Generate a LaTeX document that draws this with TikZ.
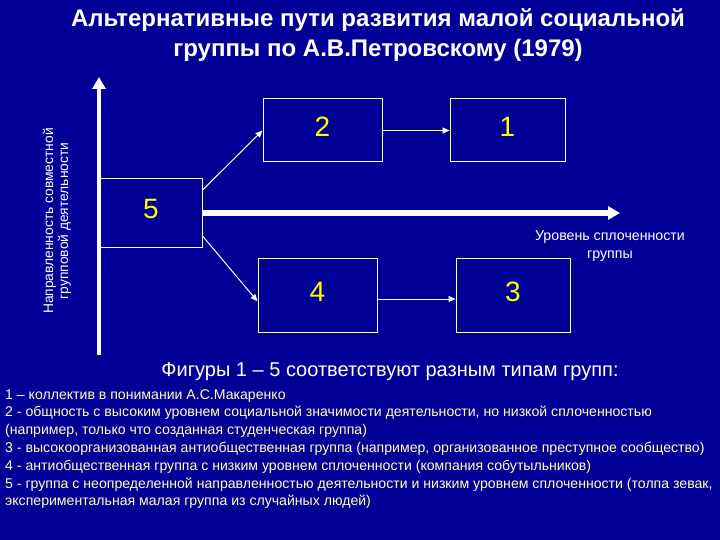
\documentclass[tikz,border=0pt]{standalone}
\usepackage{fontspec}
\setmainfont{Liberation Sans}
\usetikzlibrary{arrows.meta}
\definecolor{bg}{RGB}{0,0,150}
\definecolor{numc}{RGB}{255,255,0}
\definecolor{note}{RGB}{255,255,190}
\def\fs#1#2{\fontsize{#1}{#2}\selectfont}

\begin{document}
\begin{tikzpicture}[x=1pt,y=-1pt,
  box/.style={draw=white,line width=1pt,inner sep=0pt},
  num/.style={text=numc,font=\fs{28}{28}},
  thinarrow/.style={white,line width=1pt,-{Triangle[length=7pt,width=6pt]}},
  axisarrow/.style={white,line width=#1,-{Triangle[length=12pt,width=13pt]}}]
\fill[bg] (0,0) rectangle (720,540);
\useasboundingbox (0,0) rectangle (720,540);

\coordinate (ybot) at (99,355);
\coordinate (ytop) at (99,77);
\coordinate (xend) at (620,213);

% boxes: name/x/y/width/height
\foreach \n/\x/\y/\w/\h in {5/151/213/102/68, 2/322.5/130.5/119/63, 1/507.5/130.5/115/63,
                            4/317.5/295/119/74, 3/513/295/114/74}{
	\node[box,minimum width=\w pt,minimum height=\h pt] (n\n) at (\x,\y) {};
	\node[num] (t\n) at ([yshift=3.5pt]n\n.center) {\n};
}

\draw[axisarrow=4pt] (ybot) -- (ytop);
\draw[axisarrow=6pt] (n5.east) -- (xend);
\draw[thinarrow] (n5.24) -- (n2.west);
\draw[thinarrow] (n5.-24) -- (n4.186);
\draw[thinarrow] (n2.east) -- (n1.west);
\draw[thinarrow] ([yshift=-4pt]n4.east) -- ([yshift=-4pt]n3.west);

\node[white,align=center,font=\bfseries\fs{24}{30}] (title) at (378,35)
	{Альтернативные пути развития малой социальной\\группы по А.В.Петровскому (1979)};
\node[white,rotate=90,align=center,font=\fs{13.8}{15}] (ylab) at (57,221)
	{Направленность совместной\\групповой деятельности};
\node[white,align=center,font=\fs{14.2}{18}] (xlab) at (610,246)
	{Уровень сплоченности\\группы};
\node[white,font=\fs{20}{22}] (figs) at (390,372)
	{Фигуры 1 – 5 соответствуют разным типам групп:};
\node[text=note,anchor=north west,align=left,inner sep=0pt,font=\fs{14.1}{17.8}] (list) at (5,389)
	{1 – коллектив в понимании А.С.Макаренко\\
	2 - общность с высоким уровнем социальной значимости деятельности, но низкой сплоченностью\\
	(например, только что созданная студенческая группа)\\
	3 - высокоорганизованная антиобщественная группа (например, организованное преступное сообщество)\\
	4 - антиобщественная группа с низким уровнем сплоченности (компания собутыльников)\\
	5 - группа с неопределенной направленностью деятельности и низким уровнем сплоченности (толпа зевак,\\
	экспериментальная малая группа из случайных людей)};
\end{tikzpicture}
\end{document}
